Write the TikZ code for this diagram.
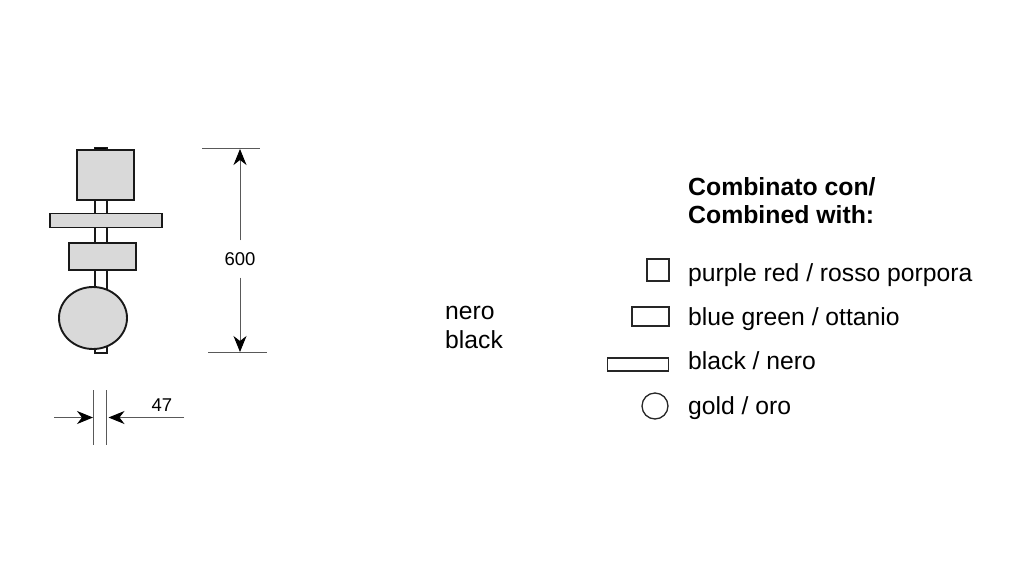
\documentclass[tikz,border=0pt]{standalone}
\usepackage{fontspec}
\setmainfont{Liberation Sans}
\usetikzlibrary{arrows.meta, shapes.geometric}
\definecolor{partgray}{RGB}{217, 217, 217}

\begin{document}
\begin{tikzpicture}[
    x=1pt, y=-1pt,
    part/.style={draw=black!90, line width=1.9pt, fill=partgray, inner sep=0pt},
    stem/.style={draw=black!90, line width=2pt, fill=white, inner sep=0pt},
    swatch/.style={draw=black!85, line width=1.3pt, fill=white, inner sep=0pt},
    dimline/.style={draw=black!65, line width=0.9pt},
    arrow/.style={dimline, -{Stealth[black, length=16pt, width=13pt, inset=5pt]}},
    label/.style={anchor=base west, inner sep=0pt, font=\fontsize{24.7}{28}\selectfont},
    dimlabel/.style={inner sep=0pt, font=\fontsize{18.5}{20}\selectfont}
]
    \useasboundingbox (0,0) rectangle (1024,576);

    % lamp
    \node[stem, minimum width=12pt, minimum height=205pt] (rod) at (100.5,250.5) {};
    \node[part, fill=black, minimum width=12pt, minimum height=2pt] (cap) at (100.5,148.5) {};
    \node[part, minimum width=57pt, minimum height=50pt] (topbox) at (105.5,175) {};
    \node[part, minimum width=112pt, minimum height=14pt] (bar) at (106,220.5) {};
    \node[part, minimum width=67pt, minimum height=27pt] (midbox) at (102.5,256.5) {};
    \node[part, ellipse, minimum width=68pt, minimum height=62pt] (globe) at (93,318) {};

    % height
    \coordinate (topa) at (202,148);
    \coordinate (topb) at (260,148);
    \coordinate (bota) at (208,352);
    \coordinate (botb) at (267,352);
    \coordinate (toparrow) at (240,149);
    \coordinate (botarrow) at (240,352);
    \node[dimlabel, minimum height=37pt] (height) at (240,259) {600};
    \draw[dimline] (topa) -- (topb);
    \draw[dimline] (bota) -- (botb);
    \draw[arrow] (height) -- (toparrow);
    \draw[arrow] (height) -- (botarrow);

    % width
    \coordinate (lefta) at (93,390);
    \coordinate (leftb) at (93,445);
    \coordinate (righta) at (106.5,390);
    \coordinate (rightb) at (106.5,445);
    \coordinate (arrowl) at (54,417.5);
    \coordinate (arrowr) at (184,417.5);
    \node[dimlabel] (width) at (162,405) {47};
    \draw[dimline] (lefta) -- (leftb);
    \draw[dimline] (righta) -- (rightb);
    \draw[arrow] (arrowl) -- (lefta |- arrowl);
    \draw[arrow] (arrowr) -- ([xshift=2pt]righta |- arrowr);

    % finish
    \node[label] (nero) at (445,319.5) {nero};
    \node[label] (black) at (445,348.5) {black};

    % legend
    \node[label, font=\fontsize{24.8}{28}\selectfont\bfseries] (comba) at (688,195.5) {Combinato con/};
    \node[label, font=\fontsize{24.8}{28}\selectfont\bfseries] (combb) at (688,223.5) {Combined with:};
    \node[swatch, minimum width=22pt, minimum height=22pt] (square) at (658,270) {};
    \node[swatch, minimum width=37pt, minimum height=19pt] (rect) at (650.5,316.5) {};
    \node[swatch, minimum width=61pt, minimum height=13pt] (strip) at (638,364.5) {};
    \node[swatch, circle, minimum size=26pt] (disc) at (655,406) {};
    \node[label] (purple) at (688,281.3) {purple red / rosso porpora};
    \node[label] (blue) at (688,325.3) {blue green / ottanio};
    \node[label] (blackk) at (688,369.5) {black / nero};
    \node[label] (gold) at (688,414.5) {gold / oro};
\end{tikzpicture}
\end{document}
